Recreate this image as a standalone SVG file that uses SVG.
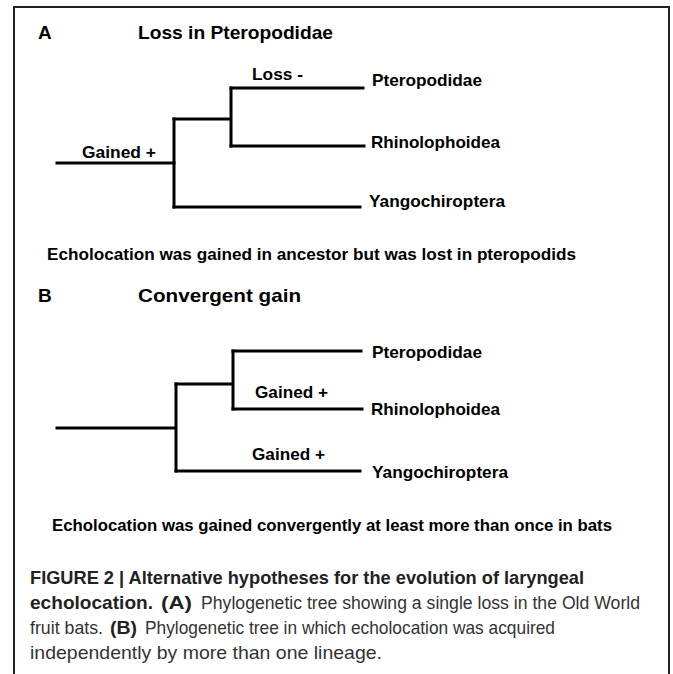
<svg xmlns="http://www.w3.org/2000/svg" width="673" height="674" viewBox="0 0 673 674">
<style>
.frame{fill:none;stroke:#222;stroke-width:2}
.br{fill:none;stroke:#000;stroke-width:3;stroke-linecap:square}
.t{font-family:"Liberation Sans",Arial,sans-serif;font-weight:bold;fill:#000;font-size:17px}
.h{font-family:"Liberation Sans",Arial,sans-serif;font-weight:bold;fill:#000;font-size:19px}
.cap{font-family:"Liberation Sans",Arial,sans-serif;font-size:19px;fill:#333}
.cb{font-weight:bold;fill:#222}
.sm{font-size:17.5px}
</style>
<rect width="673" height="674" fill="#fff"/>
<path class="frame" d="M14,674 V7 H669 V674"/>

<g id="panelA">
<text class="h" x="38" y="39">A</text>
<text class="h" x="138" y="39" textLength="195" lengthAdjust="spacingAndGlyphs">Loss in Pteropodidae</text>
<g id="connectorsA">
<path class="br" d="M57,163 H174"/>
<path class="br" d="M174,119 V207"/>
<path class="br" d="M174,119 H229"/>
<path class="br" d="M231,88 V146"/>
<path class="br" d="M231,88 H363"/>
<path class="br" d="M231,146 H364"/>
<path class="br" d="M174,207 H360"/>
</g>
<g id="nodeA-ptero"><text class="t" x="372" y="86" textLength="110" lengthAdjust="spacingAndGlyphs">Pteropodidae</text></g>
<g id="nodeA-rhino"><text class="t" x="371" y="148" textLength="129" lengthAdjust="spacingAndGlyphs">Rhinolophoidea</text></g>
<g id="nodeA-yango"><text class="t" x="369" y="207" textLength="136" lengthAdjust="spacingAndGlyphs">Yangochiroptera</text></g>
<text class="t" x="252" y="80" textLength="51" lengthAdjust="spacingAndGlyphs">Loss -</text>
<text class="t" x="82" y="158" textLength="74" lengthAdjust="spacingAndGlyphs">Gained +</text>
<text class="t" x="47" y="260" textLength="529" lengthAdjust="spacingAndGlyphs">Echolocation was gained in ancestor but was lost in pteropodids</text>
</g>

<g id="panelB">
<text class="h" x="38" y="302">B</text>
<text class="h" x="138" y="302" textLength="163" lengthAdjust="spacingAndGlyphs">Convergent gain</text>
<g id="connectorsB">
<path class="br" d="M57,428 H175"/>
<path class="br" d="M176,384 V471"/>
<path class="br" d="M176,384 H231"/>
<path class="br" d="M233,351 V409"/>
<path class="br" d="M233,351 H361"/>
<path class="br" d="M233,409 H362"/>
<path class="br" d="M176,471 H360"/>
</g>
<g id="nodeB-ptero"><text class="t" x="372" y="358" textLength="110" lengthAdjust="spacingAndGlyphs">Pteropodidae</text></g>
<g id="nodeB-rhino"><text class="t" x="371" y="415" textLength="129" lengthAdjust="spacingAndGlyphs">Rhinolophoidea</text></g>
<g id="nodeB-yango"><text class="t" x="372" y="478" textLength="136" lengthAdjust="spacingAndGlyphs">Yangochiroptera</text></g>
<text class="t" x="255" y="398" textLength="73" lengthAdjust="spacingAndGlyphs">Gained +</text>
<text class="t" x="252" y="460" textLength="73" lengthAdjust="spacingAndGlyphs">Gained +</text>
<text class="t" x="52" y="531" textLength="560" lengthAdjust="spacingAndGlyphs">Echolocation was gained convergently at least more than once in bats</text>
</g>

<g id="caption">
<text class="cap cb" x="30" y="584" textLength="554" lengthAdjust="spacingAndGlyphs">FIGURE 2 | Alternative hypotheses for the evolution of laryngeal</text>
<text class="cap cb" x="30" y="609" textLength="123" lengthAdjust="spacingAndGlyphs">echolocation.</text>
<text class="cap cb" x="161" y="609" textLength="31" lengthAdjust="spacingAndGlyphs">(A)</text>
<text class="cap sm" x="201" y="609" textLength="439" lengthAdjust="spacingAndGlyphs">Phylogenetic tree showing a single loss in the Old World</text>
<text class="cap" x="30" y="634" textLength="73" lengthAdjust="spacingAndGlyphs">fruit bats.</text>
<text class="cap cb" x="110" y="634" textLength="27" lengthAdjust="spacingAndGlyphs">(B)</text>
<text class="cap" x="145" y="634" textLength="410" lengthAdjust="spacingAndGlyphs">Phylogenetic tree in which echolocation was acquired</text>
<text class="cap" x="30" y="659" textLength="352" lengthAdjust="spacingAndGlyphs">independently by more than one lineage.</text>
</g>
</svg>
